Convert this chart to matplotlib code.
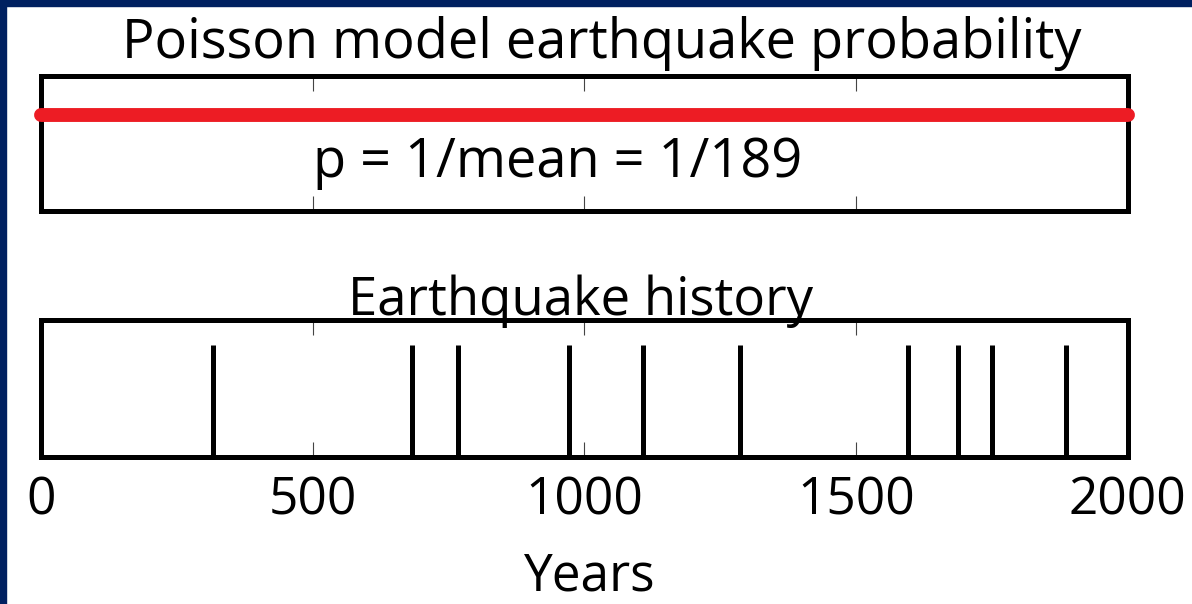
import matplotlib
matplotlib.use('Agg')
import matplotlib.pyplot as plt
from matplotlib.patches import Rectangle

plt.rcParams['font.family'] = ['Open Sans', 'DejaVu Sans']

# Данные: годы землетрясений и параметры модели
quake_years = [316, 682, 767, 971, 1107, 1286, 1596, 1688, 1750, 1887]
year_ticks = [0, 500, 1000, 1500, 2000]
year_labels = ['0', '500', '1000', '1500', '2000']
p_line_x = [0, 2000]
p_line_y = [0.71, 0.71]
mean_interval = 189

fig = plt.figure(figsize=(11.92, 6.04), dpi=100)
fig.patch.set_facecolor('white')

# Синяя рамка слева и сверху
fig.patches.append(Rectangle((0, 0), 6 / 1192, 1, transform=fig.transFigure,
                             color='#002060', zorder=10))
fig.patches.append(Rectangle((0, 1 - 6 / 604), 1, 6 / 604, transform=fig.transFigure,
                             color='#002060', zorder=10))

ax_top = fig.add_axes([0.0348, 0.6507, 0.9111, 0.2235])
ax_bot = fig.add_axes([0.0348, 0.2434, 0.9111, 0.2268])

for ax in (ax_top, ax_bot):
    ax.set_xlim(0, 2000)
    ax.set_ylim(0, 1)
    ax.set_yticks([])
    ax.set_xticks(year_ticks)
    ax.tick_params(axis='x', direction='in', top=True, bottom=True,
                   length=11, width=0.8, color='#444444')
    for s in ax.spines.values():
        s.set_linewidth(3.6)

ax_top.set_xticklabels([])
ax_bot.set_xticklabels(year_labels, fontsize=37)
ax_bot.tick_params(axis='x', pad=13)

# Модель Пуассона
ax_top.plot(p_line_x, p_line_y, color='#ED1C24', lw=10,
            solid_capstyle='round', clip_on=False, zorder=5)
ax_top.text(0.4756, 0.36, 'p = 1/mean = 1/%d' % mean_interval,
            transform=ax_top.transAxes, ha='center', va='center', fontsize=39)

# История землетрясений
ax_bot.vlines(quake_years, 0, 0.82, color='black', lw=3.6)

fig.text(0.505, 0.928, 'Poisson model earthquake probability',
         ha='center', va='center', fontsize=39)
fig.text(0.487, 0.502, 'Earthquake history', ha='center', va='center', fontsize=38)
fig.text(0.495, 0.044, 'Years', ha='center', va='center', fontsize=37)

fig.savefig('out.png', dpi=100)
